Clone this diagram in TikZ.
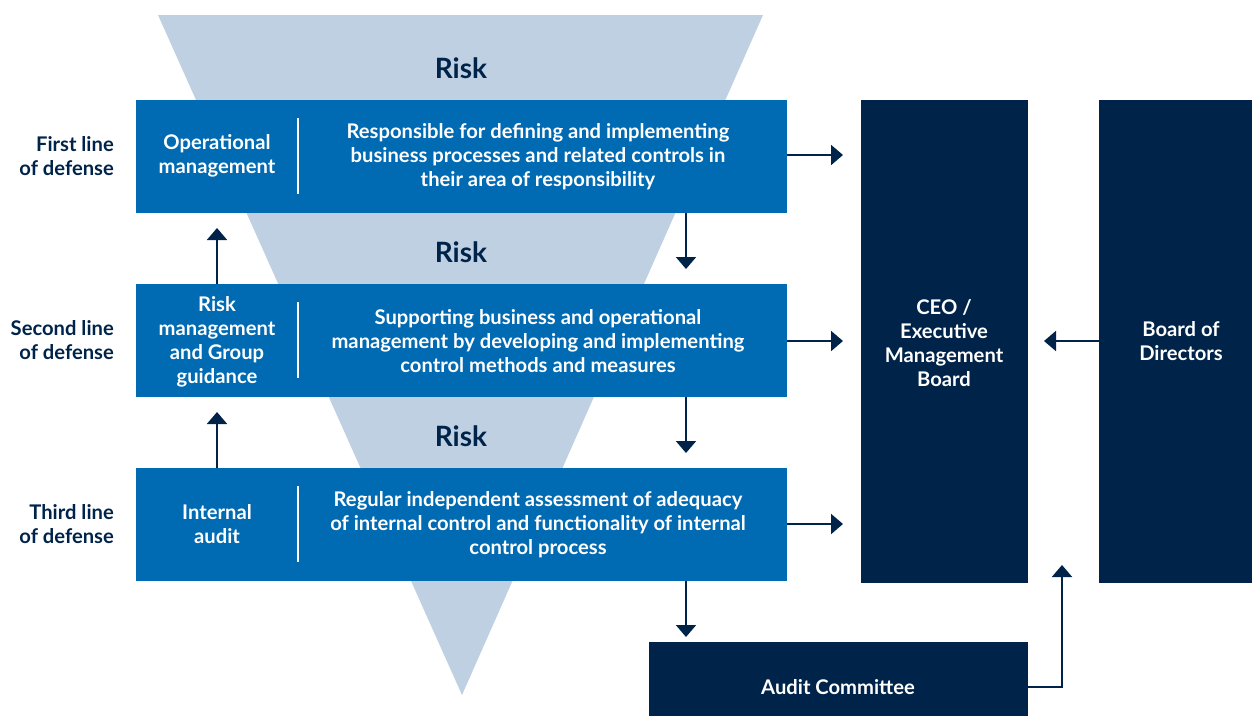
\documentclass[tikz,border=0pt]{standalone}
\usepackage{fontspec}
\setmainfont{Lato}
\usetikzlibrary{arrows.meta}
\definecolor{tri}{HTML}{BFD0E3}
\definecolor{mblue}{HTML}{006AB3}
\definecolor{navy}{HTML}{00234A}
\begin{document}
\begin{tikzpicture}[x=1pt,y=-1pt,
  bluebox/.style={fill=mblue, draw=none, minimum width=651pt, minimum height=113pt, anchor=north west, inner sep=0pt},
  navybox/.style={fill=navy, draw=none, anchor=north west, inner sep=0pt},
  txt/.style={text=white, font=\fontsize{20.2}{24}\selectfont\bfseries, align=center, inner sep=0pt},
  lbl/.style={text=navy, font=\fontsize{20.2}{24}\selectfont\bfseries, align=right, anchor=east, inner sep=0pt},
  risk/.style={text=navy, font=\fontsize{28}{32}\selectfont\bfseries, inner sep=0pt},
  sep/.style={draw=white, line width=1.5pt},
  arr/.style={draw=navy, line width=2pt, -{Triangle[width=20pt,length=12pt]}}
]
\useasboundingbox (0,0) rectangle (1252,716);
\fill[tri] (158,15) -- (763,15) -- (462,695) -- cycle;

\node[bluebox] (b1) at (136,100) {};
\node[bluebox] (b2) at (136,284) {};
\node[bluebox] (b3) at (136,468) {};

\node[navybox, minimum width=167pt, minimum height=483pt] (ceo) at (861,100) {};
\node[navybox, minimum width=153pt, minimum height=483pt] (board) at (1099,100) {};
\node[navybox, minimum width=379pt, minimum height=74pt] (audit) at (649,642) {};

\node[risk] (r1) at (461,68) {Risk};
\node[risk] (r2) at (461,252) {Risk};
\node[risk] (r3) at (461,436) {Risk};

\node[lbl] (l1) at (114,156) {First line\\of defense};
\node[lbl] (l2) at (114,340) {Second line\\of defense};
\node[lbl] (l3) at (114,524) {Third line\\of defense};

\node[txt] (c1) at (217,156) {Operational\\management};
\node[txt] (c2) at (217,341.5) {Risk\\management\\and Group\\guidance};
\node[txt] (c3) at (217,524) {Internal\\audit};

\draw[sep] (298,118) -- (298,194);
\draw[sep] (298,302) -- (298,378);
\draw[sep] (298,486) -- (298,562);

\node[txt] (d1) at (538,157) {Responsible for defining and implementing\\business processes and related controls in\\their area of responsibility};
\node[txt] (d2) at (538,341) {Supporting business and operational\\management by developing and implementing\\control methods and measures};
\node[txt] (d3) at (538,525) {Regular independent assessment of adequacy\\of internal control and functionality of internal\\control process};

\node[txt] (ceot) at (944,343.5) {CEO /\\Executive\\Management\\Board};
\node[txt] (boardt) at (1181,341.5) {Board of\\Directors};
\node[txt] (auditt) at (838,687) {Audit Committee};

% right arrows
\coordinate (t1) at (843,155);
\coordinate (t2) at (843,341);
\coordinate (t3) at (843,524);
\draw[arr] (b1.east |- t1) -- (t1);
\draw[arr] (b2.east |- t2) -- (t2);
\draw[arr] (b3.east |- t3) -- (t3);
% down arrows
\coordinate (dn1) at (686,269);
\coordinate (dn2) at (686,453);
\coordinate (dn3) at (686,637);
\draw[arr] (b1.south -| dn1) -- (dn1);
\draw[arr] (b2.south -| dn2) -- (dn2);
\draw[arr] (b3.south -| dn3) -- (dn3);
% up arrows
\coordinate (up1) at (217,228);
\coordinate (up2) at (217,412);
\draw[arr] (b2.north -| up1) -- (up1);
\draw[arr] (b3.north -| up2) -- (up2);
% board to ceo
\coordinate (bc) at (1044,341);
\draw[arr] (board.west |- bc) -- (bc);
% audit to ceo
\coordinate (ua) at (1062,565);
\draw[arr] (audit.east |- auditt) -| (ua);
\end{tikzpicture}
\end{document}
